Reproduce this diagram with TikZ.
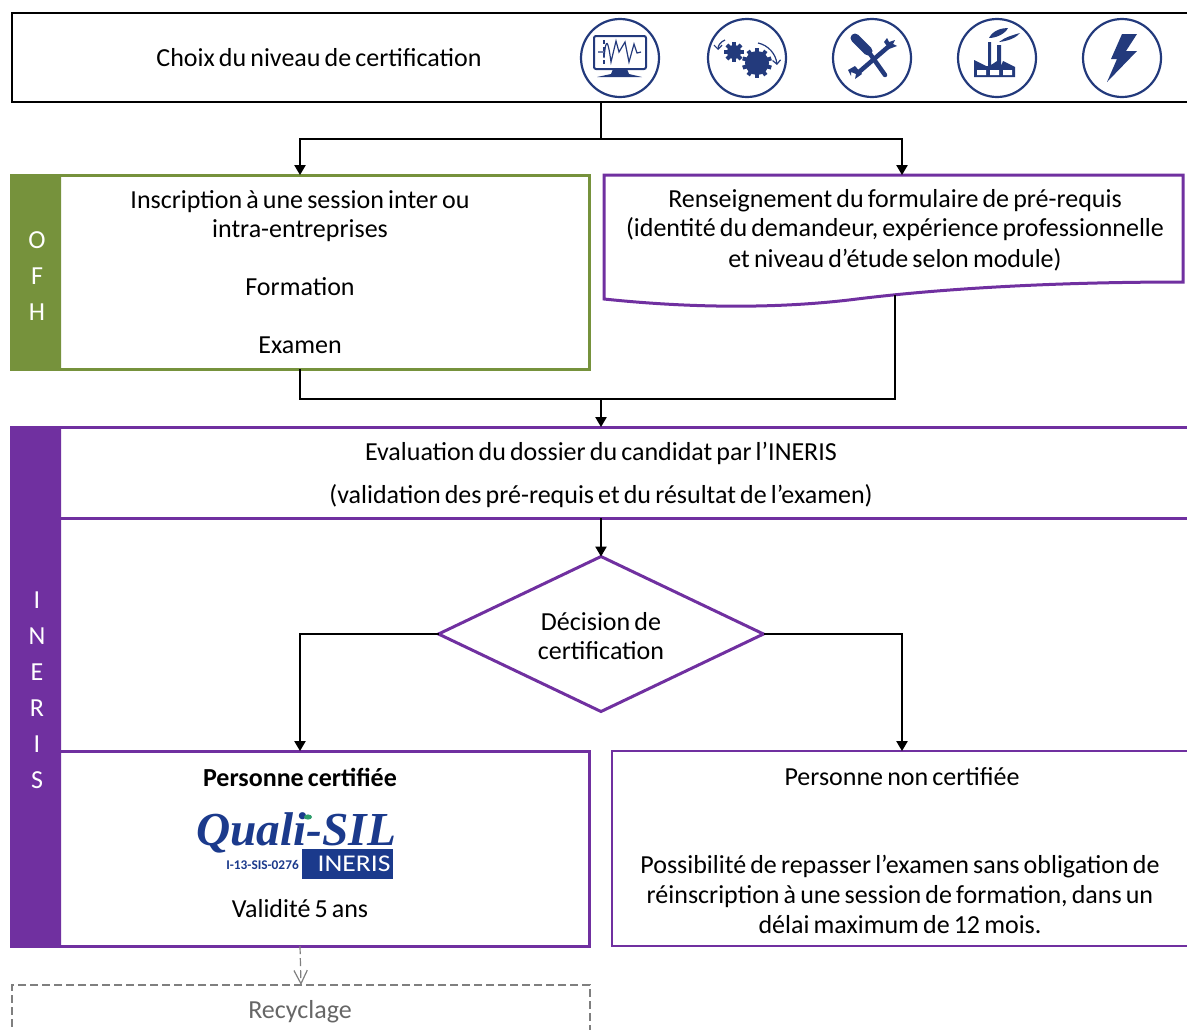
\documentclass[tikz,border=0pt]{standalone}
\usepackage{fontspec}
\setmainfont[WordSpace=0.7]{Carlito}
\newfontfamily\logoserif{Liberation Serif}
\usetikzlibrary{arrows.meta,shapes.geometric}
\definecolor{purpleline}{HTML}{7030A0}
\definecolor{greenline}{HTML}{76923C}
\definecolor{iconblue}{HTML}{233A7C}
\definecolor{logoblue}{HTML}{1B3A8C}
\definecolor{logogreen}{HTML}{2E9E6B}
\definecolor{grayline}{HTML}{7F7F7F}
\definecolor{graytext}{HTML}{666666}
\def\px{0.75pt}

\begin{document}
\begin{tikzpicture}[x=0.75pt,y=-0.75pt,>={Triangle[length=7.5pt,width=8.5pt]}]
    \tikzstyle{label-text}=[font=\fontsize{19.5}{21.75}\selectfont,align=center,inner sep=0pt]
    \tikzstyle{band-text}=[label-text,text=white]
    \tikzstyle{box}=[rectangle,anchor=north west,inner sep=0pt,outer sep=0pt]
    \tikzstyle{band}=[rounded corners=1.5pt]
    \tikzstyle{flow}=[draw=black,line width=1.5*\px]
    \tikzstyle{gray-dash}=[draw=grayline,line width=1.2*\px,dash pattern=on 6pt off 3pt]
    \tikzstyle{icon-ring}=[circle,draw=iconblue,line width=2.2*\px,minimum size=78*\px,inner sep=0pt]
    \tikzstyle{icon-ink}=[fill=iconblue,draw=none]
    \tikzstyle{icon-line}=[draw=iconblue,line width=1.2*\px]

    \useasboundingbox (0,0) rectangle (1187,1029);

    % top box with the five icons
    \node [box,draw=black,line width=2*\px,minimum width=1190*\px,minimum height=89*\px] (choix) at (12,13) {};
    \node [label-text] (choixtext) at (319,58) {Choix du niveau de certification};
    \node [icon-ring] (iconscreen) at (620,58) {};
    \node [icon-ring] (icongears)  at (747,58) {};
    \node [icon-ring] (icontools)  at (872,58) {};
    \node [icon-ring] (iconplant)  at (997,58) {};
    \node [icon-ring] (iconbolt)   at (1122,58) {};

    % screen
    \draw [icon-line,line width=2*\px,rounded corners=1.5pt] (594,36) rectangle (646,69);
    \fill [icon-ink] (613,69) -- (627,69) -- (629,74) -- (642,77) -- (597,77) -- (611,74) -- cycle;
    \draw [icon-line] (598,52) -- (604,52) (604,58) .. controls (606,36) and (608,40) .. (611,62)
      -- (616,41) -- (619,52) -- (625,42) -- (629,62) -- (634,44) -- (637,53) -- (641,52);
    \draw [icon-line,densely dashed] (604,40) -- (604,65);

    % gears
    \foreach \cx/\cy/\r/\n in {734/52/7/8,757/63/12/10} {
      \fill [icon-ink] (\cx,\cy) circle [radius=\r*\px];
      \foreach \i in {1,...,\n}
        \fill [icon-ink,shift={(\cx,\cy)},rotate=\i*360/\n] (-2,-\r-3) rectangle (2,-\r+1);
    }
    \draw [icon-line,-{Straight Barb[length=3pt]}] (725,40) .. controls (720,42) and (718,46) .. (718,50);
    \draw [icon-line,-{Straight Barb[length=3pt]}] (758,43) .. controls (768,45) and (776,54) .. (777,65);

    % screwdriver and wrench
    \draw [draw=iconblue,line width=9*\px,line cap=round] (855,38) -- (868,51);
    \draw [draw=iconblue,line width=4.5*\px,line cap=round] (868,51) -- (885,75);
    \draw [draw=iconblue,line width=4.5*\px,line cap=round] (888,47) -- (859,72);
    \fill [icon-ink] (884,42) -- (889,49) -- (897,46) -- (893,44) -- (895,40) -- (889,42) -- (887,38) -- cycle;
    \fill [icon-ink] (855,66) -- (862,74) -- (855,79) -- (856,74) -- (851,72) -- (851,76) -- (848,70) -- cycle;

    % plant
    \fill [icon-ink] (974,60) -- (986,66) -- (988,66) -- (988,42) -- (991,42) -- (991,65) -- (997,61)
      -- (997,45) -- (1001,45) -- (1001,66) -- (1003,61) -- (1015,67) -- (1015,77) -- (974,77) -- cycle;
    \fill [white] (977,70) rectangle (986,75) (990,70) rectangle (999,75) (1003,70) rectangle (1012,75);
    \fill [icon-ink] (989,38) .. controls (993,30) and (1002,28) .. (1008,28) .. controls (1005,34) and (996,38) .. cycle;
    \fill [icon-ink] (999,42) .. controls (1005,37) and (1013,35) .. (1020,33) .. controls (1016,38) and (1008,41) .. cycle;

    % bolt
    \fill [icon-ink] (1122,34) -- (1137,34) -- (1126,51) -- (1137,51) -- (1107,82) -- (1117,59) -- (1111,59) -- cycle;

    % OFH column
    \node [box,draw=greenline,line width=3*\px,minimum width=578*\px,minimum height=194*\px] (inscription) at (11,175) {};
    \fill [greenline,band] (10,174) rectangle (61,370);
    \node [band-text] (ofho) at (37,240) {O};
    \node [band-text] (ofhf) at (37,276) {F};
    \node [band-text] (ofhh) at (37,312) {H};
    \node [label-text] (sessiontext) at (300,216) {Inscription à une session inter ou\\intra-entreprises};
    \node [label-text] (formationtext) at (300,287) {Formation};
    \node [label-text] (examentext) at (300,345) {Examen};

    % form
    \draw [draw=purpleline,line width=3*\px,line join=miter] (604,175) -- (1183,175) -- (1183,282)
      .. controls (1040,282) and (930,290) .. (857,299) .. controls (770,310) and (680,307) .. (604,299) -- cycle;
    \coordinate (formfoot) at (895,295);
    \node [label-text] (formtext) at (895,230) {Renseignement du formulaire de pré-requis\\(identité du demandeur, expérience professionnelle\\[1.5pt]et niveau d’étude selon module)};

    % INERIS column
    \node [box,draw=purpleline,line width=3*\px,minimum width=1190*\px,minimum height=91*\px] (evaluation) at (11,427) {};
    \node [box,draw=purpleline,line width=3*\px,minimum width=578*\px,minimum height=195*\px] (certified) at (11,751) {};
    \node [box,draw=purpleline,line width=2*\px,minimum width=590*\px,minimum height=195*\px] (notcertified) at (612,751) {};
    \fill [purpleline,band] (10,426) rectangle (61,947);
    \foreach \y/\letter [count=\i] in {600/I,636/N,672/E,708/R,744/I,780/S}
      \node [band-text] (ineris\i) at (37,\y) {\letter};
    \node [label-text] (evaltext) at (601,453) {Evaluation du dossier du candidat par l’INERIS};
    \node [label-text] (evaltextb) at (601,496) {(validation des pré-requis et du résultat de l’examen)};
    \node [diamond,aspect=2.1,draw=purpleline,line width=3*\px,minimum width=325*\px,minimum height=155*\px,inner sep=0pt,outer sep=0pt] (decision) at (601,634) {};
    \node [label-text] (decisiontext) at (601,636) {Décision de\\certification};

    % certified box
    \node [label-text,font=\fontsize{19.5}{21.75}\selectfont\bfseries] (certifiedtext) at (300,777) {Personne certifiée};
    \node [anchor=base,inner sep=0pt,text=logoblue,font=\fontsize{35.5}{35}\selectfont\logoserif\bfseries\itshape] (logoname) at (296,845) {Quali-SIL};
    \fill [logogreen] (308,817) ellipse [x radius=4,y radius=2.6];
    \node [box,fill=logoblue,minimum width=91*\px,minimum height=30*\px] (logobox) at (302,849) {};
    \node [inner sep=0pt,text=white,font=\fontsize{18}{18}\selectfont,xscale=1.15] (logoineris) at (354,864) {INERIS};
    \node [anchor=east,inner sep=0pt,text=logoblue,font=\fontsize{10}{12}\selectfont\bfseries] (logocode) at (299,865) {I-13-SIS-0276};
    \node [label-text] (validtext) at (300,909) {Validité 5 ans};

    % not certified box
    \node [label-text] (notcertifiedtext) at (902,777) {Personne non certifiée};
    \node [label-text] (retrytext) at (900,894) {Possibilité de repasser l’examen sans obligation de\\[0.75pt]réinscription à une session de formation, dans un\\[0.75pt]délai maximum de 12 mois.};

    % recycling box
    \node [box,gray-dash,minimum width=578*\px,minimum height=70*\px] (recycling) at (12,985) {};
    \node [label-text,text=graytext] (recyclingtext) at (300,1012) {Recyclage};

    % connectors
    \coordinate (split) at (601,139);
    \coordinate (merge) at (601,399);
    \draw [flow,line width=2.5*\px] (choix.south -| split) -- (split);
    \draw [flow,->] (split) -| (inscription.north);
    \draw [flow,->] (split) -| (902,175);
    \draw [flow] (inscription.south) |- (merge);
    \draw [flow] (formfoot) |- (merge);
    \draw [flow,line width=2.5*\px] (merge) -- (601,405);
    \draw [flow,->] (merge) -- (evaluation.north -| merge);
    \draw [flow,->] (evaluation.south -| decision) -- (decision.north);
    \draw [flow,->] (decision.west) -| (certified.north);
    \draw [flow,->] (decision.east) -| (902,751);
    \draw [gray-dash,-{Straight Barb[length=10pt,width=10pt]}] (certified.south) -- (recycling.north);
\end{tikzpicture}
\end{document}
